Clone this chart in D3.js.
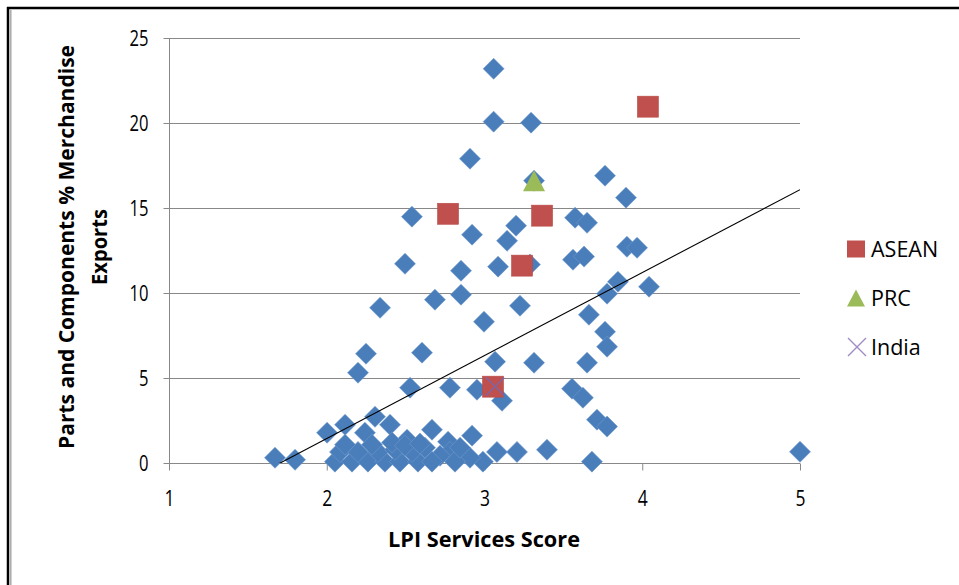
<!DOCTYPE html>
<html><head><meta charset="utf-8">
<script src="https://cdn.jsdelivr.net/npm/d3@7"></script>
<style>body{margin:0;background:#fff}svg{display:block}text{font-family:"Open Sans","Noto Sans",sans-serif}</style>
</head><body>
<svg id="chart" width="959" height="585"></svg>
<script>
// ---- data ----
const xTicks = [1, 2, 3, 4, 5];
const yTicks = [0, 5, 10, 15, 20, 25];
const otherX = [3.058,3.058,3.295,2.908,3.764,3.314,3.897,2.540,3.574,3.650,3.200,3.143,2.921,3.903,3.967,3.561,3.631,2.496,3.086,3.288,2.851,3.846,3.777,4.043,2.338,2.686,2.851,3.225,3.662,2.997,3.764,3.777,2.249,2.604,3.067,3.314,3.650,2.198,2.528,2.781,2.952,3.555,3.624,3.111,3.713,3.777,2.921,2.769,3.396,3.206,3.079,2.990,2.908,3.681,5.000,1.672,1.799,2.002,2.116,2.306,2.401,2.242,2.667,2.509,2.781,2.718,2.052,2.160,2.261,2.369,2.464,2.578,2.667,2.813,2.084,2.198,2.325,2.433,2.540,2.623,2.116,2.414,2.496,2.287,2.591,2.845];
const otherY = [23.19,20.08,20.02,17.90,16.90,16.61,15.61,14.49,14.43,14.13,13.96,13.07,13.43,12.72,12.66,11.96,12.14,11.72,11.55,11.67,11.31,10.66,9.96,10.37,9.13,9.61,9.90,9.25,8.72,8.31,7.72,6.84,6.43,6.49,5.96,5.90,5.90,5.31,4.43,4.43,4.31,4.37,3.84,3.66,2.55,2.14,1.61,1.25,0.78,0.65,0.65,0.08,0.31,0.08,0.66,0.31,0.19,1.78,2.25,2.72,2.25,1.78,1.96,1.37,0.65,0.43,0.08,0.08,0.08,0.08,0.08,0.08,0.08,0.08,0.65,0.65,0.65,0.78,0.65,0.90,1.08,1.20,1.02,1.08,1.14,0.90];
const aseanX = [2.769, 3.365, 3.238, 4.036, 3.054];
const aseanY = [14.66, 14.55, 11.61, 20.96, 4.49];
const prcX = [3.314];
const prcY = [16.6];
const indiaX = [3.067];
const indiaY = [4.5];
const trendSlope = 4.88;
const trendIntercept = -8.32;
const legendLabels = ["ASEAN", "PRC", "India"];
const xTitle = "LPI Services Score";
const yTitleLines = ["Parts and Components % Merchandise", "Exports"];

// ---- layout ----
const svg = d3.select("#chart");
const x = d3.scaleLinear().domain([1, 5]).range([169, 800]);
const y = d3.scaleLinear().domain([0, 25]).range([463, 38]);
const gridColor = "#888888";
const blue = "#4A7EBB", red = "#C0504D", green = "#9BBB59", purple = "#8064A2";

svg.append("rect").attr("width", 959).attr("height", 585).attr("fill", "#fff");
// frame
svg.append("line").attr("x1", 8).attr("x2", 8).attr("y1", 7).attr("y2", 585).attr("stroke", "#000").attr("stroke-width", 2.5);
svg.append("line").attr("x1", 7).attr("x2", 959).attr("y1", 8).attr("y2", 8).attr("stroke", "#000").attr("stroke-width", 2.5);
svg.append("line").attr("x1", 10.8).attr("x2", 10.8).attr("y1", 10).attr("y2", 585).attr("stroke", "#aaa").attr("stroke-width", 1.5);

// gridlines
svg.append("g").selectAll("line").data(yTicks.filter(d => d > 0)).join("line")
  .attr("x1", x(1)).attr("x2", x(5)).attr("y1", d => Math.round(y(d)) + 0.5).attr("y2", d => Math.round(y(d)) + 0.5)
  .attr("stroke", gridColor).attr("stroke-width", 1);

// axes
const xAxis = d3.axisBottom(x).tickValues(xTicks).tickSize(7).tickFormat(d3.format("d"));
const gx = svg.append("g").attr("transform", `translate(0,${Math.round(y(0)) + 0.5})`).call(xAxis);
gx.select(".domain").attr("stroke", gridColor).attr("d", `M${x(1)},0H${x(5)}`);
gx.selectAll(".tick line").attr("stroke", gridColor);
gx.selectAll(".tick text").attr("font-size", 21).attr("fill", "#000").attr("dy", "0").attr("y", 42)
  .attr("font-family", "Open Sans").attr("textLength", 10).attr("lengthAdjust", "spacingAndGlyphs");

const yAxis = d3.axisLeft(y).tickValues(yTicks).tickSize(6).tickFormat(d3.format("d"));
const gy = svg.append("g").attr("transform", `translate(${Math.round(x(1)) + 0.5},0)`).call(yAxis);
gy.select(".domain").attr("stroke", gridColor).attr("d", `M0,${y(25)}V${y(0)}`);
gy.selectAll(".tick line").attr("stroke", gridColor);
gy.selectAll(".tick text").attr("font-size", 21).attr("fill", "#000").attr("x", -21).attr("dy", "0.34em")
  .attr("font-family", "Open Sans")
  .attr("textLength", d => String(d).length * 9.5).attr("lengthAdjust", "spacingAndGlyphs");

// markers
const diamond = r => `M0,${-r}L${r},0L0,${r}L${-r},0Z`;
const tri = (w, h) => `M0,${-h/2}L${w/2},${h/2}L${-w/2},${h/2}Z`;
const cross = r => `M${-r},${-r}L${r},${r}M${r},${-r}L${-r},${r}`;

svg.append("g").selectAll("path").data(otherX.map((v, i) => [v, otherY[i]])).join("path")
  .attr("d", diamond(10.5)).attr("transform", d => `translate(${x(d[0])},${y(d[1])})`)
  .attr("fill", blue).attr("stroke", "#6f98cc").attr("stroke-width", 0.6);

svg.append("g").selectAll("rect").data(aseanX.map((v, i) => [v, aseanY[i]])).join("rect")
  .attr("x", d => x(d[0]) - 10.5).attr("y", d => y(d[1]) - 10.5).attr("width", 21).attr("height", 21)
  .attr("fill", red).attr("stroke", "#b84b48").attr("stroke-width", 0.6);

svg.append("g").selectAll("path").data(prcX.map((v, i) => [v, prcY[i]])).join("path")
  .attr("d", tri(22, 21)).attr("transform", d => `translate(${x(d[0])},${y(d[1])})`).attr("fill", green);

svg.append("g").selectAll("path").data(indiaX.map((v, i) => [v, indiaY[i]])).join("path")
  .attr("d", cross(9)).attr("transform", d => `translate(${x(d[0])},${y(d[1])})`)
  .attr("fill", "none").attr("stroke", purple).attr("stroke-width", 1.6);

// trendline
svg.append("clipPath").attr("id", "plotclip").append("rect")
  .attr("x", x(1)).attr("y", y(25)).attr("width", x(5) - x(1)).attr("height", y(0) - y(25));
const tx0 = d3.min(otherX.concat(aseanX, prcX, indiaX)), tx1 = d3.max(otherX.concat(aseanX, prcX, indiaX));
svg.append("line").attr("clip-path", "url(#plotclip)")
  .attr("x1", x(tx0)).attr("y1", y(trendSlope * tx0 + trendIntercept))
  .attr("x2", x(tx1)).attr("y2", y(trendSlope * tx1 + trendIntercept))
  .attr("stroke", "#000").attr("stroke-width", 1.1);

// titles
svg.append("text").attr("x", 484).attr("y", 547).attr("text-anchor", "middle")
  .attr("font-size", 21).attr("font-weight", "bold")
  .attr("textLength", 192).attr("lengthAdjust", "spacingAndGlyphs").text(xTitle);
const yLens = [404, 76];
yTitleLines.forEach((t, i) => {
  svg.append("text").attr("transform", `translate(${74 + i * 33},247) rotate(-90)`)
    .attr("text-anchor", "middle").attr("font-size", 21).attr("font-weight", "bold")
    .attr("textLength", yLens[i]).attr("lengthAdjust", "spacingAndGlyphs").text(t);
});

// legend
const lg = svg.append("g");
const rows = [249, 298, 347];
lg.append("rect").attr("x", 847).attr("y", rows[0] - 8.5).attr("width", 18).attr("height", 17).attr("fill", red);
lg.append("path").attr("d", tri(18, 17)).attr("transform", `translate(856,${rows[1]})`).attr("fill", green);
lg.append("path").attr("d", cross(9)).attr("transform", `translate(857,${rows[2]})`).attr("fill", "none").attr("stroke", "#a08cc4").attr("stroke-width", 1.4);
lg.selectAll("text").data(legendLabels).join("text")
  .attr("x", 871).attr("y", (d, i) => rows[i] + 7.5).attr("font-size", 21.5).text(d => d);
</script>
</body></html>
